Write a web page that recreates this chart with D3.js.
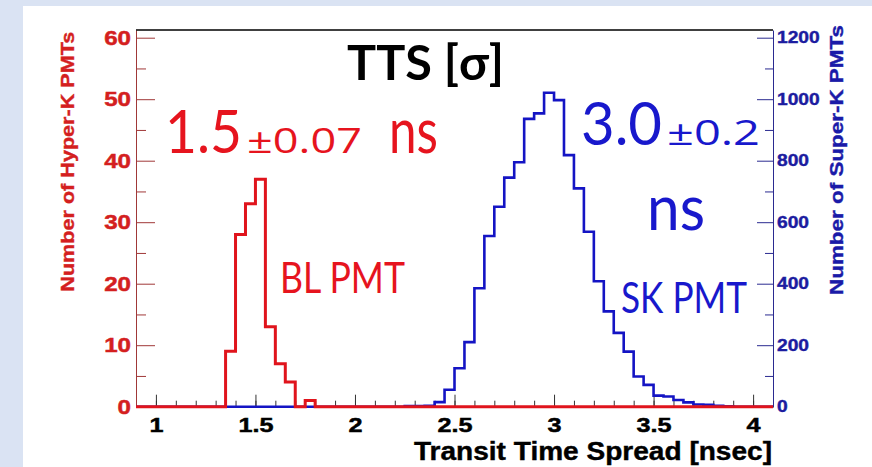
<!DOCTYPE html>
<html>
<head>
<meta charset="utf-8">
<script src="https://cdn.jsdelivr.net/npm/d3@7"></script>
<style>
  body { margin: 0; background: #dae3f3; }
  svg { display: block; }
</style>
</head>
<body>
<div id="chart"></div>
<script>
// 1: DATA
const binWidth = 0.05;                 // ns per bin
const redStart = 1.35;                 // Hyper-K (BL PMT) histogram, first bin low edge
const redCounts = [9, 28, 33, 37, 13, 7, 4, 0, 1];
const blueStart = 2.25;                // Super-K histogram, first bin low edge
const blueCounts = [2, 2, 3, 15, 55, 125, 210, 385, 555, 650, 745, 795, 936, 954, 1021,
    997, 818, 710, 569, 408, 310, 240, 179, 98, 71, 36, 33, 22, 14, 7, 6, 3, 1];
const xTicks = [1, 1.5, 2, 2.5, 3, 3.5, 4];
const leftTicks = [0, 10, 20, 30, 40, 50, 60];
const rightTicks = [0, 200, 400, 600, 800, 1000, 1200];

// 2: GLOBALS
const W = 872, H = 467;
const plot = { left: 136, right: 773, top: 30, bottom: 406.7 };
const xDomain = [0.9, 4.1];

const svg = d3.select("#chart")
    .append("svg")
    .attr("width", W)
    .attr("height", H);

// slide background + white panel
svg.append("rect").attr("width", W).attr("height", H).attr("fill", "#dae3f3");
svg.append("rect").attr("x", 23).attr("y", 6).attr("width", W - 23).attr("height", H - 6).attr("fill", "#fff");

// 3: SCALES
const x = d3.scaleLinear().domain(xDomain).range([plot.left, plot.right]);
const yL = d3.scaleLinear().domain([0, 61.25]).range([plot.bottom, plot.top]);
const yR = d3.scaleLinear().domain([0, 1225]).range([plot.bottom, plot.top]);

// 4: AXES
const tickFont = "'Liberation Sans', Arial, sans-serif";

// the ROOT labels are a bit wider than plain Arial bold
function widen(sel, f) {
    sel.each(function () {
        const w = this.getComputedTextLength();
        d3.select(this).attr("textLength", w * f).attr("lengthAdjust", "spacingAndGlyphs");
    });
}

// x axis: major ticks with labels, minor every 0.1
const xMinor = svg.append("g")
    .attr("transform", `translate(0,${plot.bottom})`)
    .call(d3.axisBottom(x).tickValues(d3.range(10, 41).map(d => d / 10)).tickSize(-6).tickSizeOuter(0).tickFormat(""));
xMinor.select(".domain").remove();
xMinor.selectAll("line").attr("stroke", "#333");

const xAxis = svg.append("g")
    .attr("transform", `translate(0,${plot.bottom})`)
    .call(d3.axisBottom(x).tickValues(xTicks).tickSize(-12).tickSizeOuter(0).tickPadding(10).tickFormat(d3.format("")));
xAxis.select(".domain").attr("stroke", "#000");
xAxis.selectAll("line").attr("stroke", "#333");
xAxis.selectAll("text")
    .attr("font-family", tickFont)
    .attr("font-weight", "bold")
    .attr("font-size", 21)
    .attr("fill", "#000")
    .attr("stroke", "#000")
    .attr("stroke-width", 0.5)
    .call(widen, 1.2);

// left axis (Hyper-K, red)
const lMinor = svg.append("g")
    .attr("transform", `translate(${plot.left},0)`)
    .call(d3.axisLeft(yL).tickValues(d3.range(5, 60, 10)).tickSize(-10).tickSizeOuter(0).tickFormat(""));
lMinor.select(".domain").remove();
lMinor.selectAll("line").attr("stroke", "#a03838");

const lAxis = svg.append("g")
    .attr("transform", `translate(${plot.left},0)`)
    .call(d3.axisLeft(yL).tickValues(leftTicks).tickSize(-19).tickSizeOuter(0).tickPadding(5));
lAxis.select(".domain").attr("stroke", "#a03838");
lAxis.selectAll("line").attr("stroke", "#a03838");
lAxis.selectAll("text")
    .attr("font-family", tickFont)
    .attr("font-weight", "bold")
    .attr("font-size", 21)
    .attr("fill", "#d41f1f")
    .attr("stroke", "#d41f1f")
    .attr("stroke-width", 0.5)
    .call(widen, 1.15);

// right axis (Super-K, blue)
const rMinor = svg.append("g")
    .attr("transform", `translate(${plot.right},0)`)
    .call(d3.axisRight(yR).tickValues(d3.range(100, 1200, 200)).tickSize(-8).tickSizeOuter(0).tickFormat(""));
rMinor.select(".domain").remove();
rMinor.selectAll("line").attr("stroke", "#2a2a90");

const rAxis = svg.append("g")
    .attr("transform", `translate(${plot.right},0)`)
    .call(d3.axisRight(yR).tickValues(rightTicks).tickSize(-16).tickSizeOuter(0).tickPadding(4).tickFormat(d3.format("d")));
rAxis.select(".domain").attr("stroke", "#2a2a90");
rAxis.selectAll("line").attr("stroke", "#2a2a90");
rAxis.selectAll("text")
    .attr("font-family", tickFont)
    .attr("font-weight", "bold")
    .attr("font-size", 16)
    .attr("fill", "#1c1ca0")
    .attr("stroke", "#1c1ca0")
    .attr("stroke-width", 0.4)
    .call(widen, 1.2);

// top frame line
svg.append("line")
    .attr("x1", plot.left).attr("x2", plot.right)
    .attr("y1", plot.top).attr("y2", plot.top)
    .attr("stroke", "#000").attr("stroke-width", 1.5);

// 5: HISTOGRAMS (step outlines across the full x range)
function histPoints(start, counts) {
    const pts = [[xDomain[0], 0], [start, 0]];
    counts.forEach((c, i) => {
        const lo = start + i * binWidth;
        pts.push([lo, c], [lo + binWidth, c]);
    });
    pts.push([start + counts.length * binWidth, 0], [xDomain[1], 0]);
    return pts;
}

svg.append("path")
    .datum(histPoints(blueStart, blueCounts))
    .attr("fill", "none")
    .attr("stroke", "#1414c4")
    .attr("stroke-width", 2.6)
    .attr("stroke-linejoin", "miter")
    .attr("d", d3.line().x(d => x(d[0])).y(d => yR(d[1])));

svg.append("path")
    .datum(histPoints(redStart, redCounts))
    .attr("fill", "none")
    .attr("stroke", "#e0141c")
    .attr("stroke-width", 3)
    .attr("stroke-linejoin", "miter")
    .attr("d", d3.line().x(d => x(d[0])).y(d => yL(d[1])));

// 6: LABELS
svg.append("text")
    .attr("transform", "translate(73.5,161.7) rotate(-90)")
    .attr("text-anchor", "middle")
    .attr("font-family", tickFont)
    .attr("font-weight", "bold")
    .attr("font-size", 19)
    .attr("fill", "#d41f1f")
    .attr("stroke", "#d41f1f")
    .attr("stroke-width", 0.4)
    .attr("textLength", 260)
    .attr("lengthAdjust", "spacingAndGlyphs")
    .text("Number of Hyper-K PMTs");

svg.append("text")
    .attr("transform", "translate(842.5,160) rotate(-90)")
    .attr("text-anchor", "middle")
    .attr("font-family", tickFont)
    .attr("font-weight", "bold")
    .attr("font-size", 19)
    .attr("fill", "#1a1aa8")
    .attr("stroke", "#1a1aa8")
    .attr("stroke-width", 0.4)
    .attr("textLength", 270)
    .attr("lengthAdjust", "spacingAndGlyphs")
    .text("Number of Super-K PMTs");

svg.append("text")
    .attr("x", 772)
    .attr("y", 460)
    .attr("text-anchor", "end")
    .attr("font-family", tickFont)
    .attr("font-weight", "bold")
    .attr("font-size", 25)
    .attr("fill", "#000")
    .attr("stroke", "#000")
    .attr("stroke-width", 0.4)
    .attr("textLength", 358)
    .attr("lengthAdjust", "spacingAndGlyphs")
    .text("Transit Time Spread [nsec]");

// slide annotations (Lato stands in for Calibri; the small "±" parts use Open Sans lining digits)
const lato = "Lato, 'Open Sans', sans-serif";
const open = "'Open Sans', sans-serif";
const notes = [
    { t: "TTS [σ]", x: 347, y: 80, size: 48, w: 157, c: "#000", bold: true, f: lato },
    { t: "1.5", x: 165, y: 152.7, size: 60, w: 77, c: "#e6141e", f: lato },
    { t: "±0.07", x: 247, y: 152.7, size: 35, w: 115, c: "#e6141e", f: open },
    { t: "ns", x: 389, y: 152.7, size: 62, w: 49, c: "#e6141e", f: lato },
    { t: "3.0", x: 581, y: 145, size: 60, w: 81, c: "#1818cc", f: lato },
    { t: "±0.2", x: 667, y: 145, size: 35, w: 93, c: "#1818cc", f: open },
    { t: "ns", x: 647, y: 230, size: 62, w: 58, c: "#1818cc", f: lato },
    { t: "BL PMT", x: 280, y: 293.3, size: 42, w: 125, c: "#e6141e", f: lato },
    { t: "SK PMT", x: 621, y: 313.3, size: 42, w: 126, c: "#1818cc", f: lato }
];
svg.selectAll("text.note")
    .data(notes)
    .enter()
    .append("text")
    .attr("class", "note")
    .attr("x", d => d.x)
    .attr("y", d => d.y)
    .attr("font-family", d => d.f)
    .attr("font-weight", d => d.bold ? "bold" : "normal")
    .attr("font-size", d => d.size)
    .attr("fill", d => d.c)
    .attr("textLength", d => d.w)
    .attr("lengthAdjust", "spacingAndGlyphs")
    .text(d => d.t);
</script>
</body>
</html>
